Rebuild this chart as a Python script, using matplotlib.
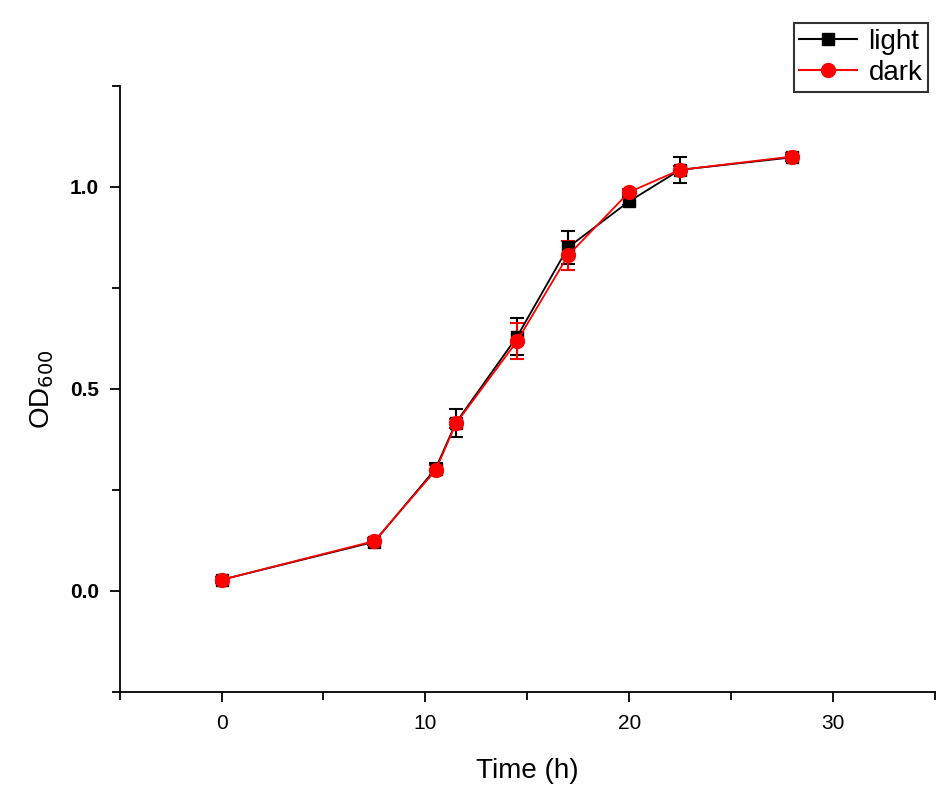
import matplotlib.pyplot as plt
from matplotlib.ticker import MultipleLocator
from matplotlib.lines import Line2D

plt.rcParams['font.family'] = ['Liberation Sans', 'DejaVu Sans']

# temps (h) et densite optique
time_h = [0, 7.5, 10.5, 11.5, 14.5, 17, 20, 22.5, 28]
od_light = [0.027, 0.121, 0.302, 0.416, 0.629, 0.850, 0.964, 1.042, 1.073]
err_light = [0.008, 0.008, 0.015, 0.035, 0.045, 0.040, 0.010, 0.032, 0.008]
od_dark = [0.027, 0.123, 0.298, 0.414, 0.618, 0.830, 0.987, 1.042, 1.075]
err_dark = [0.008, 0.008, 0.012, 0.012, 0.045, 0.035, 0.008, 0.010, 0.008]

fig = plt.figure(figsize=(9.5, 7.95), dpi=100)
ax = fig.add_axes([0.126, 0.130, 0.858, 0.762])

ax.errorbar(time_h, od_light, yerr=err_light, color='black', marker='s',
            markersize=9, linewidth=1.3, capsize=5, capthick=1.5,
            elinewidth=1.5)
ax.errorbar(time_h, od_dark, yerr=err_dark, color='red', marker='o',
            markersize=10, linewidth=1.3, capsize=5, capthick=1.5,
            elinewidth=1.5)

ax.set_xlim(-5, 35)
ax.set_ylim(-0.25, 1.25)
ax.xaxis.set_major_locator(MultipleLocator(10))
ax.xaxis.set_minor_locator(MultipleLocator(5))
ax.yaxis.set_major_locator(MultipleLocator(0.5))
ax.yaxis.set_minor_locator(MultipleLocator(0.25))
ax.yaxis.set_major_formatter(plt.FormatStrFormatter('%.1f'))

for s in ['top', 'right']:
    ax.spines[s].set_visible(False)
for s in ['left', 'bottom']:
    ax.spines[s].set_linewidth(1.3)
ax.tick_params(which='both', direction='out', width=1.3, labelsize=15)
ax.tick_params(which='major', length=7)
ax.tick_params(which='minor', length=6)
ax.tick_params(axis='y', pad=8)
ax.tick_params(axis='x', pad=9)
for lab in ax.get_yticklabels():
    lab.set_fontweight('bold')

ax.set_xlabel('Time (h)', fontsize=20, labelpad=18)
ax.set_ylabel('OD$_{600}$', fontsize=20, labelpad=10)

handles = [Line2D([], [], color='black', marker='s', markersize=9, linewidth=1.5),
           Line2D([], [], color='red', marker='o', markersize=10, linewidth=1.5)]
leg = fig.legend(handles, ['light', 'dark'], loc='upper right',
                 bbox_to_anchor=(0.977, 0.971), fontsize=20,
                 frameon=True, fancybox=False, edgecolor='black',
                 handlelength=2.1, borderpad=0.2, labelspacing=0.2,
                 handletextpad=0.4, borderaxespad=0)
leg.get_frame().set_linewidth(1.5)

plt.savefig('out.png', dpi=100)
